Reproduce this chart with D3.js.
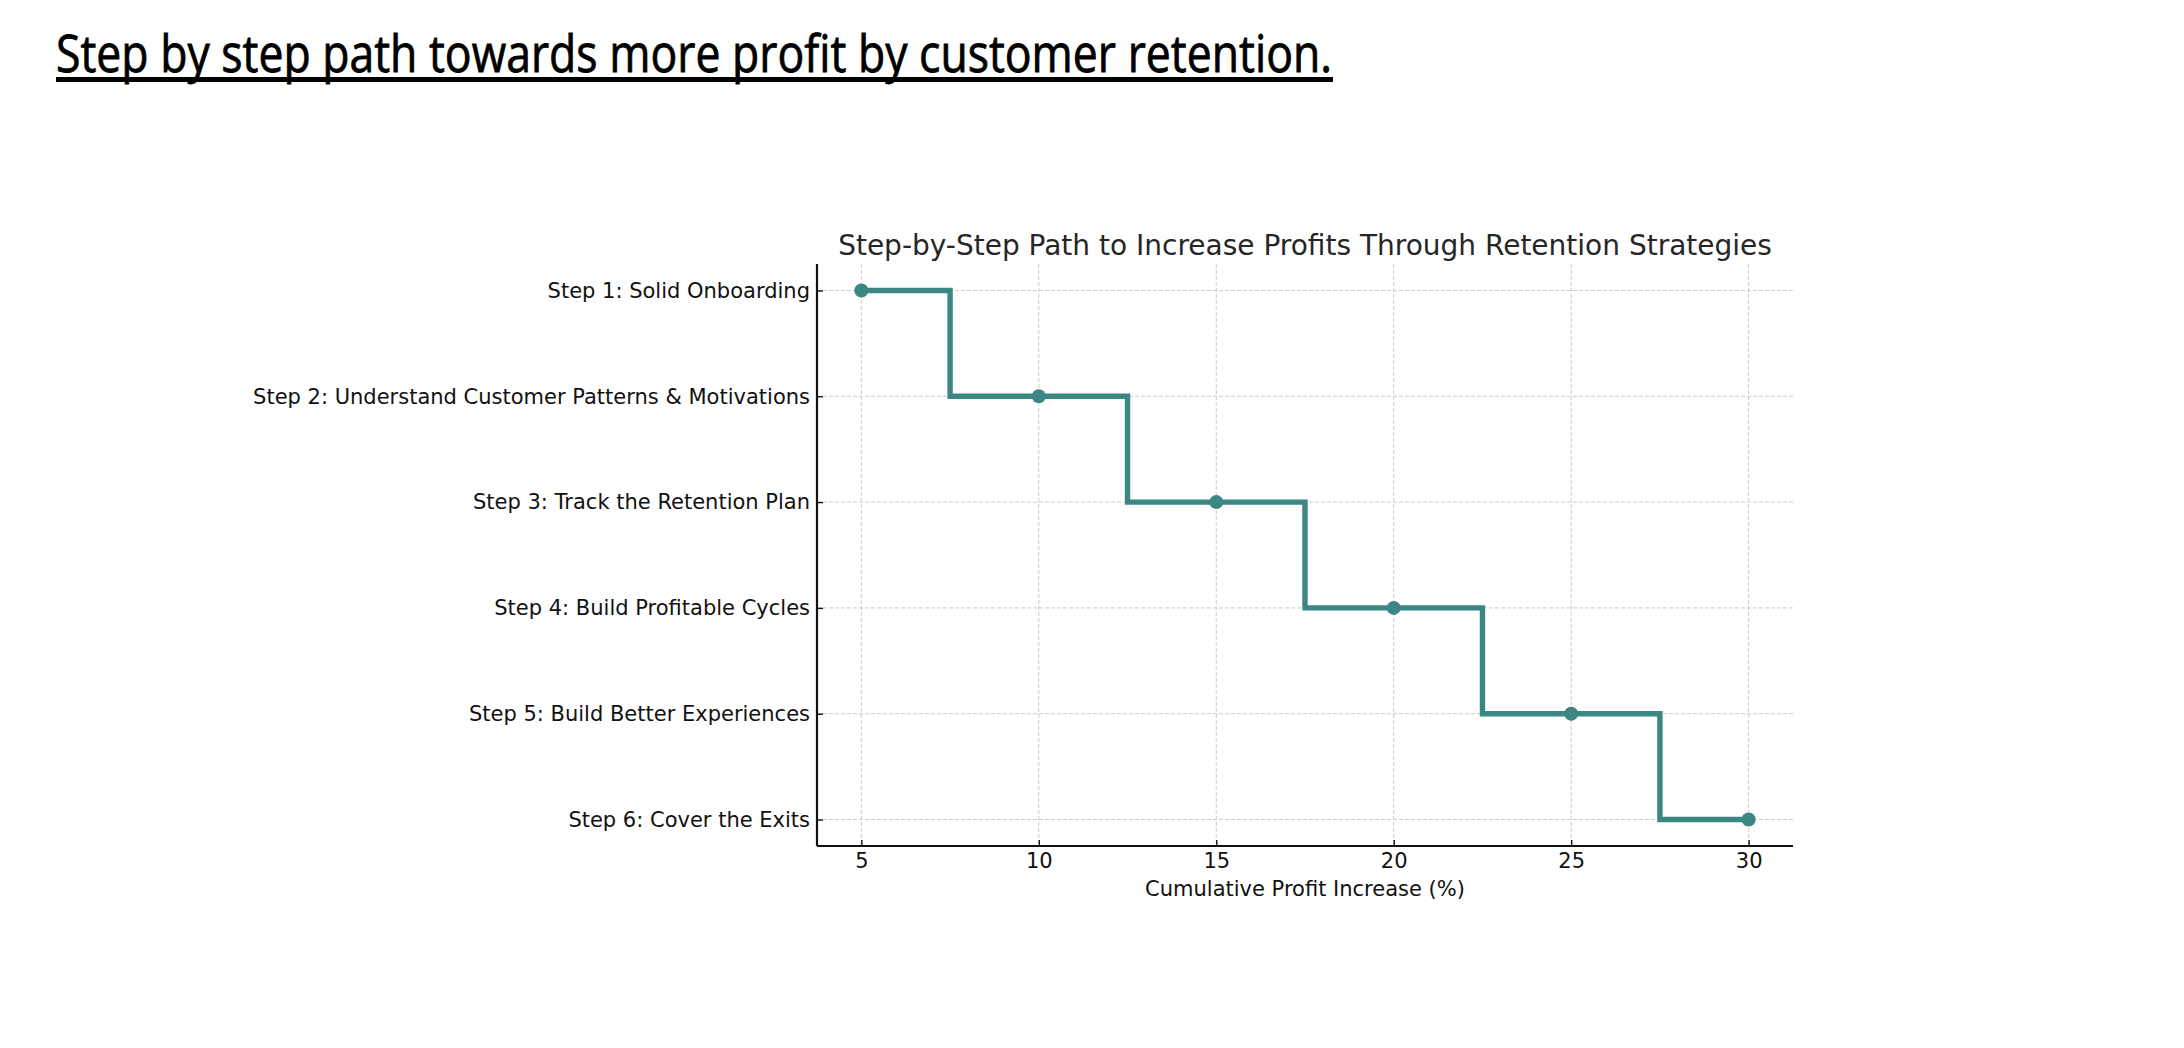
<!DOCTYPE html>
<html>
<head>
<meta charset="utf-8">
<script src="https://cdn.jsdelivr.net/npm/d3@7"></script>
<style>
    body { margin: 0; background: #fff; }
    svg { display: block; }
</style>
</head>
<body>
<div class="chart"></div>
<script>
var pageTitle = "Step by step path towards more profit by customer retention.";
var chartTitle = "Step-by-Step Path to Increase Profits Through Retention Strategies";
var xLabel = "Cumulative Profit Increase (%)";

var steps = [
    "Step 1: Solid Onboarding",
    "Step 2: Understand Customer Patterns & Motivations",
    "Step 3: Track the Retention Plan",
    "Step 4: Build Profitable Cycles",
    "Step 5: Build Better Experiences",
    "Step 6: Cover the Exits"
];
var profit = [5, 10, 15, 20, 25, 30];
var xTicks = [5, 10, 15, 20, 25, 30];

var W = 2184, H = 1048;
var margin = {top: 264, right: 2184 - 1793, bottom: 1048 - 846, left: 817},
    width = W - margin.left - margin.right,
    height = H - margin.top - margin.bottom;

var lineColor = "#3b8784";

var svg = d3.select(".chart").append("svg")
    .attr("width", W)
    .attr("height", H);

// page heading, underlined
svg.append("text")
    .attr("x", 56)
    .attr("y", 72)
    .attr("textLength", 1276)
    .attr("lengthAdjust", "spacingAndGlyphs")
    .style("font-family", "'Liberation Sans Narrow', 'Open Sans', sans-serif")
    .style("font-size", "51px")
    .style("fill", "#000")
    .style("stroke", "#000")
    .style("stroke-width", 0.8)
    .text(pageTitle);

svg.append("rect")
    .attr("x", 56)
    .attr("y", 77)
    .attr("width", 1277)
    .attr("height", 5)
    .attr("fill", "#000");

var g = svg.append("g")
    .attr("transform", "translate(" + margin.left + "," + margin.top + ")");

// matplotlib-style 5% padding
var xPad = (d3.max(profit) - d3.min(profit)) * 0.05;
var x = d3.scaleLinear()
    .domain([d3.min(profit) - xPad, d3.max(profit) + xPad])
    .range([0, width]);

var yPad = (steps.length - 1) * 0.05;
var y = d3.scaleLinear()
    .domain([-yPad, steps.length - 1 + yPad])
    .range([0, height]);

// grid
g.append("g").selectAll("line")
    .data(xTicks)
    .enter().append("line")
    .attr("x1", function(d) { return x(d); })
    .attr("x2", function(d) { return x(d); })
    .attr("y1", 0)
    .attr("y2", height)
    .attr("stroke", "#cccccc")
    .attr("stroke-width", 1)
    .attr("stroke-dasharray", "4,2");

g.append("g").selectAll("line")
    .data(steps)
    .enter().append("line")
    .attr("x1", 0)
    .attr("x2", width)
    .attr("y1", function(d, i) { return y(i); })
    .attr("y2", function(d, i) { return y(i); })
    .attr("stroke", "#cccccc")
    .attr("stroke-width", 1)
    .attr("stroke-dasharray", "4,2");

// step line (steps-mid)
var pts = profit.map(function(v, i) { return [v, i]; });
var line = d3.line()
    .x(function(d) { return x(d[0]); })
    .y(function(d) { return y(d[1]); })
    .curve(d3.curveStep);

g.append("path")
    .datum(pts)
    .attr("d", line)
    .attr("fill", "none")
    .attr("stroke", lineColor)
    .attr("stroke-width", 5.4)
    .attr("stroke-linejoin", "miter");

g.append("g").selectAll("circle")
    .data(pts)
    .enter().append("circle")
    .attr("cx", function(d) { return x(d[0]); })
    .attr("cy", function(d) { return y(d[1]); })
    .attr("r", 7)
    .attr("fill", lineColor);

// axes
var xAxis = d3.axisBottom(x)
    .tickValues(xTicks)
    .tickSizeInner(-6)
    .tickSizeOuter(0)
    .tickPadding(7);

var yAxis = d3.axisLeft(y)
    .tickValues(d3.range(steps.length))
    .tickFormat(function(i) { return steps[i]; })
    .tickSizeInner(-6)
    .tickSizeOuter(0)
    .tickPadding(7);

var gx = g.append("g")
    .attr("transform", "translate(0," + height + ")")
    .call(xAxis);

var gy = g.append("g")
    .call(yAxis);

[gx, gy].forEach(function(a) {
    a.select(".domain").attr("stroke", "#111").attr("stroke-width", 2.2);
    a.selectAll(".tick line").attr("stroke", "#111").attr("stroke-width", 1.4);
    a.selectAll(".tick text")
        .style("font-family", "'DejaVu Sans', sans-serif")
        .style("font-size", "21px")
        .attr("fill", "#111");
});

gx.select(".domain").attr("d", "M0,0H" + width);
gy.select(".domain").attr("d", "M0,0V" + height);

// labels
g.append("text")
    .attr("x", width / 2)
    .attr("y", 896 - margin.top)
    .style("text-anchor", "middle")
    .style("font-family", "'DejaVu Sans', sans-serif")
    .style("font-size", "21px")
    .attr("fill", "#111")
    .text(xLabel);

g.append("text")
    .attr("x", width / 2)
    .attr("y", 255 - margin.top)
    .style("text-anchor", "middle")
    .style("font-family", "'DejaVu Sans', sans-serif")
    .style("font-size", "28px")
    .attr("fill", "#262626")
    .text(chartTitle);
</script>
</body>
</html>
